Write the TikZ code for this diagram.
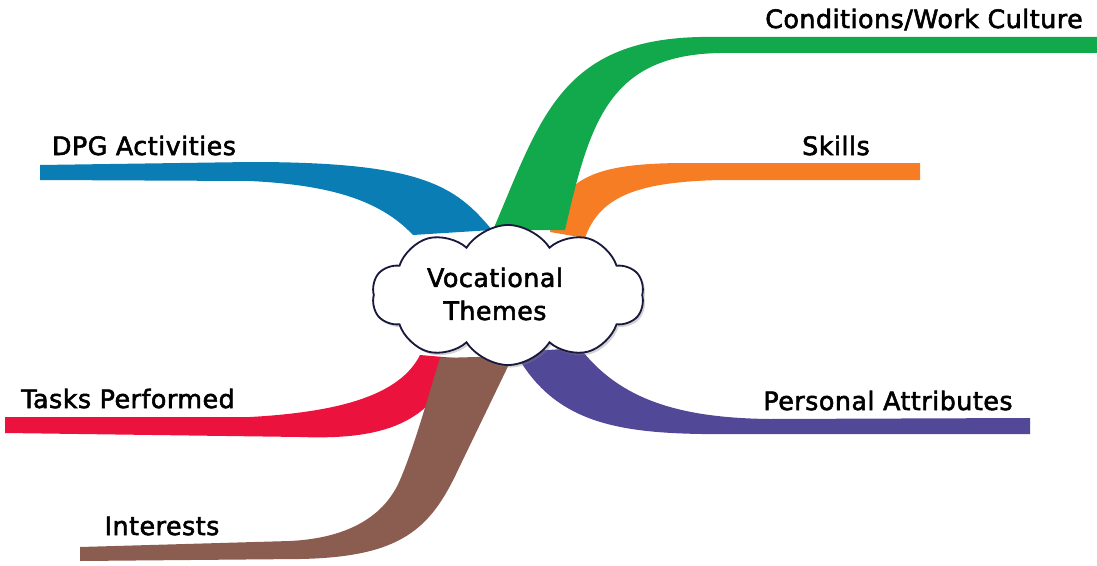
\documentclass[tikz,border=0pt]{standalone}
\usepackage{fontspec}
\setmainfont{DejaVu Sans}
\newfontfamily\leaffont{DejaVu Sans}[FakeBold=2.2, LetterSpace=2]
\usetikzlibrary{shapes.symbols, shadows}
\definecolor{dpgblue}{RGB}{10,126,180}
\definecolor{workgreen}{RGB}{18,168,76}
\definecolor{skillorange}{RGB}{246,125,36}
\definecolor{taskred}{RGB}{236,18,62}
\definecolor{interestbrown}{RGB}{139,92,80}
\definecolor{attrpurple}{RGB}{82,72,152}
\definecolor{cloudline}{RGB}{25,25,60}

\begin{document}
\begin{tikzpicture}[
        x=0.025cm, y=-0.025cm,
        leaf/.style={font=\leaffont\fontsize{18}{21}\selectfont, anchor=base, inner sep=0pt},
        hub/.style={cloud, cloud puffs=10, cloud puff arc=115, cloud ignores aspect,
                    draw=cloudline, line width=1.3pt, fill=white,
                    minimum width=6.8cm, minimum height=3.5cm,
                    drop shadow={shadow xshift=1.5pt, shadow yshift=-1.8pt, opacity=.35}},
    ]
    \useasboundingbox (0,0) rectangle (1097,565);

    % branches, back to front
    \fill[dpgblue] (40,165) -- (250,162) .. controls (420,162) and (455,185) .. (492,230)
        -- (413,235) .. controls (380,200) and (330,185) .. (250,181) -- (40,180) -- cycle;
    \fill[skillorange] (550,232) .. controls (560,175) and (600,164) .. (680,163) -- (920,163)
        -- (920,180) -- (720,180) .. controls (640,182) and (600,195) .. (585,238) -- cycle;
    \fill[workgreen] (493,230) .. controls (540,120) and (560,40) .. (700,37) -- (1097,37)
        -- (1097,53) -- (720,53) .. controls (610,55) and (590,120) .. (565,230) -- cycle;
    \fill[taskred] (5,417) -- (250,417) .. controls (340,412) and (400,395) .. (420,355)
        -- (455,358) .. controls (435,425) and (380,440) .. (300,437) -- (5,433) -- cycle;
    \fill[interestbrown] (80,547) -- (290,541) .. controls (350,538) and (385,515) .. (400,480)
        .. controls (415,445) and (430,390) .. (440,358) -- (513,356) -- (458,470)
        .. controls (430,530) and (400,557) .. (300,559) -- (80,561) -- cycle;
    \fill[attrpurple] (515,352) -- (580,348) .. controls (620,400) and (680,418) .. (770,419)
        -- (1030,418) -- (1030,434) -- (760,434) .. controls (640,435) and (560,435) .. (515,352) -- cycle;

    \node[hub] (hub) at (508,295) {};
    \node[leaf, anchor=center, align=center, font=\leaffont\fontsize{18}{23.5}\selectfont]
        (themes) at (495,294) {Vocational\\Themes};

    \node[leaf] (dpg) at (144,155) {DPG Activities};
    \node[leaf] (work) at (924,28) {Conditions/Work Culture};
    \node[leaf] (skills) at (836,155) {Skills};
    \node[leaf] (tasks) at (128,408) {Tasks Performed};
    \node[leaf] (interests) at (162,535) {Interests};
    \node[leaf] (attributes) at (888,410) {Personal Attributes};
\end{tikzpicture}
\end{document}
